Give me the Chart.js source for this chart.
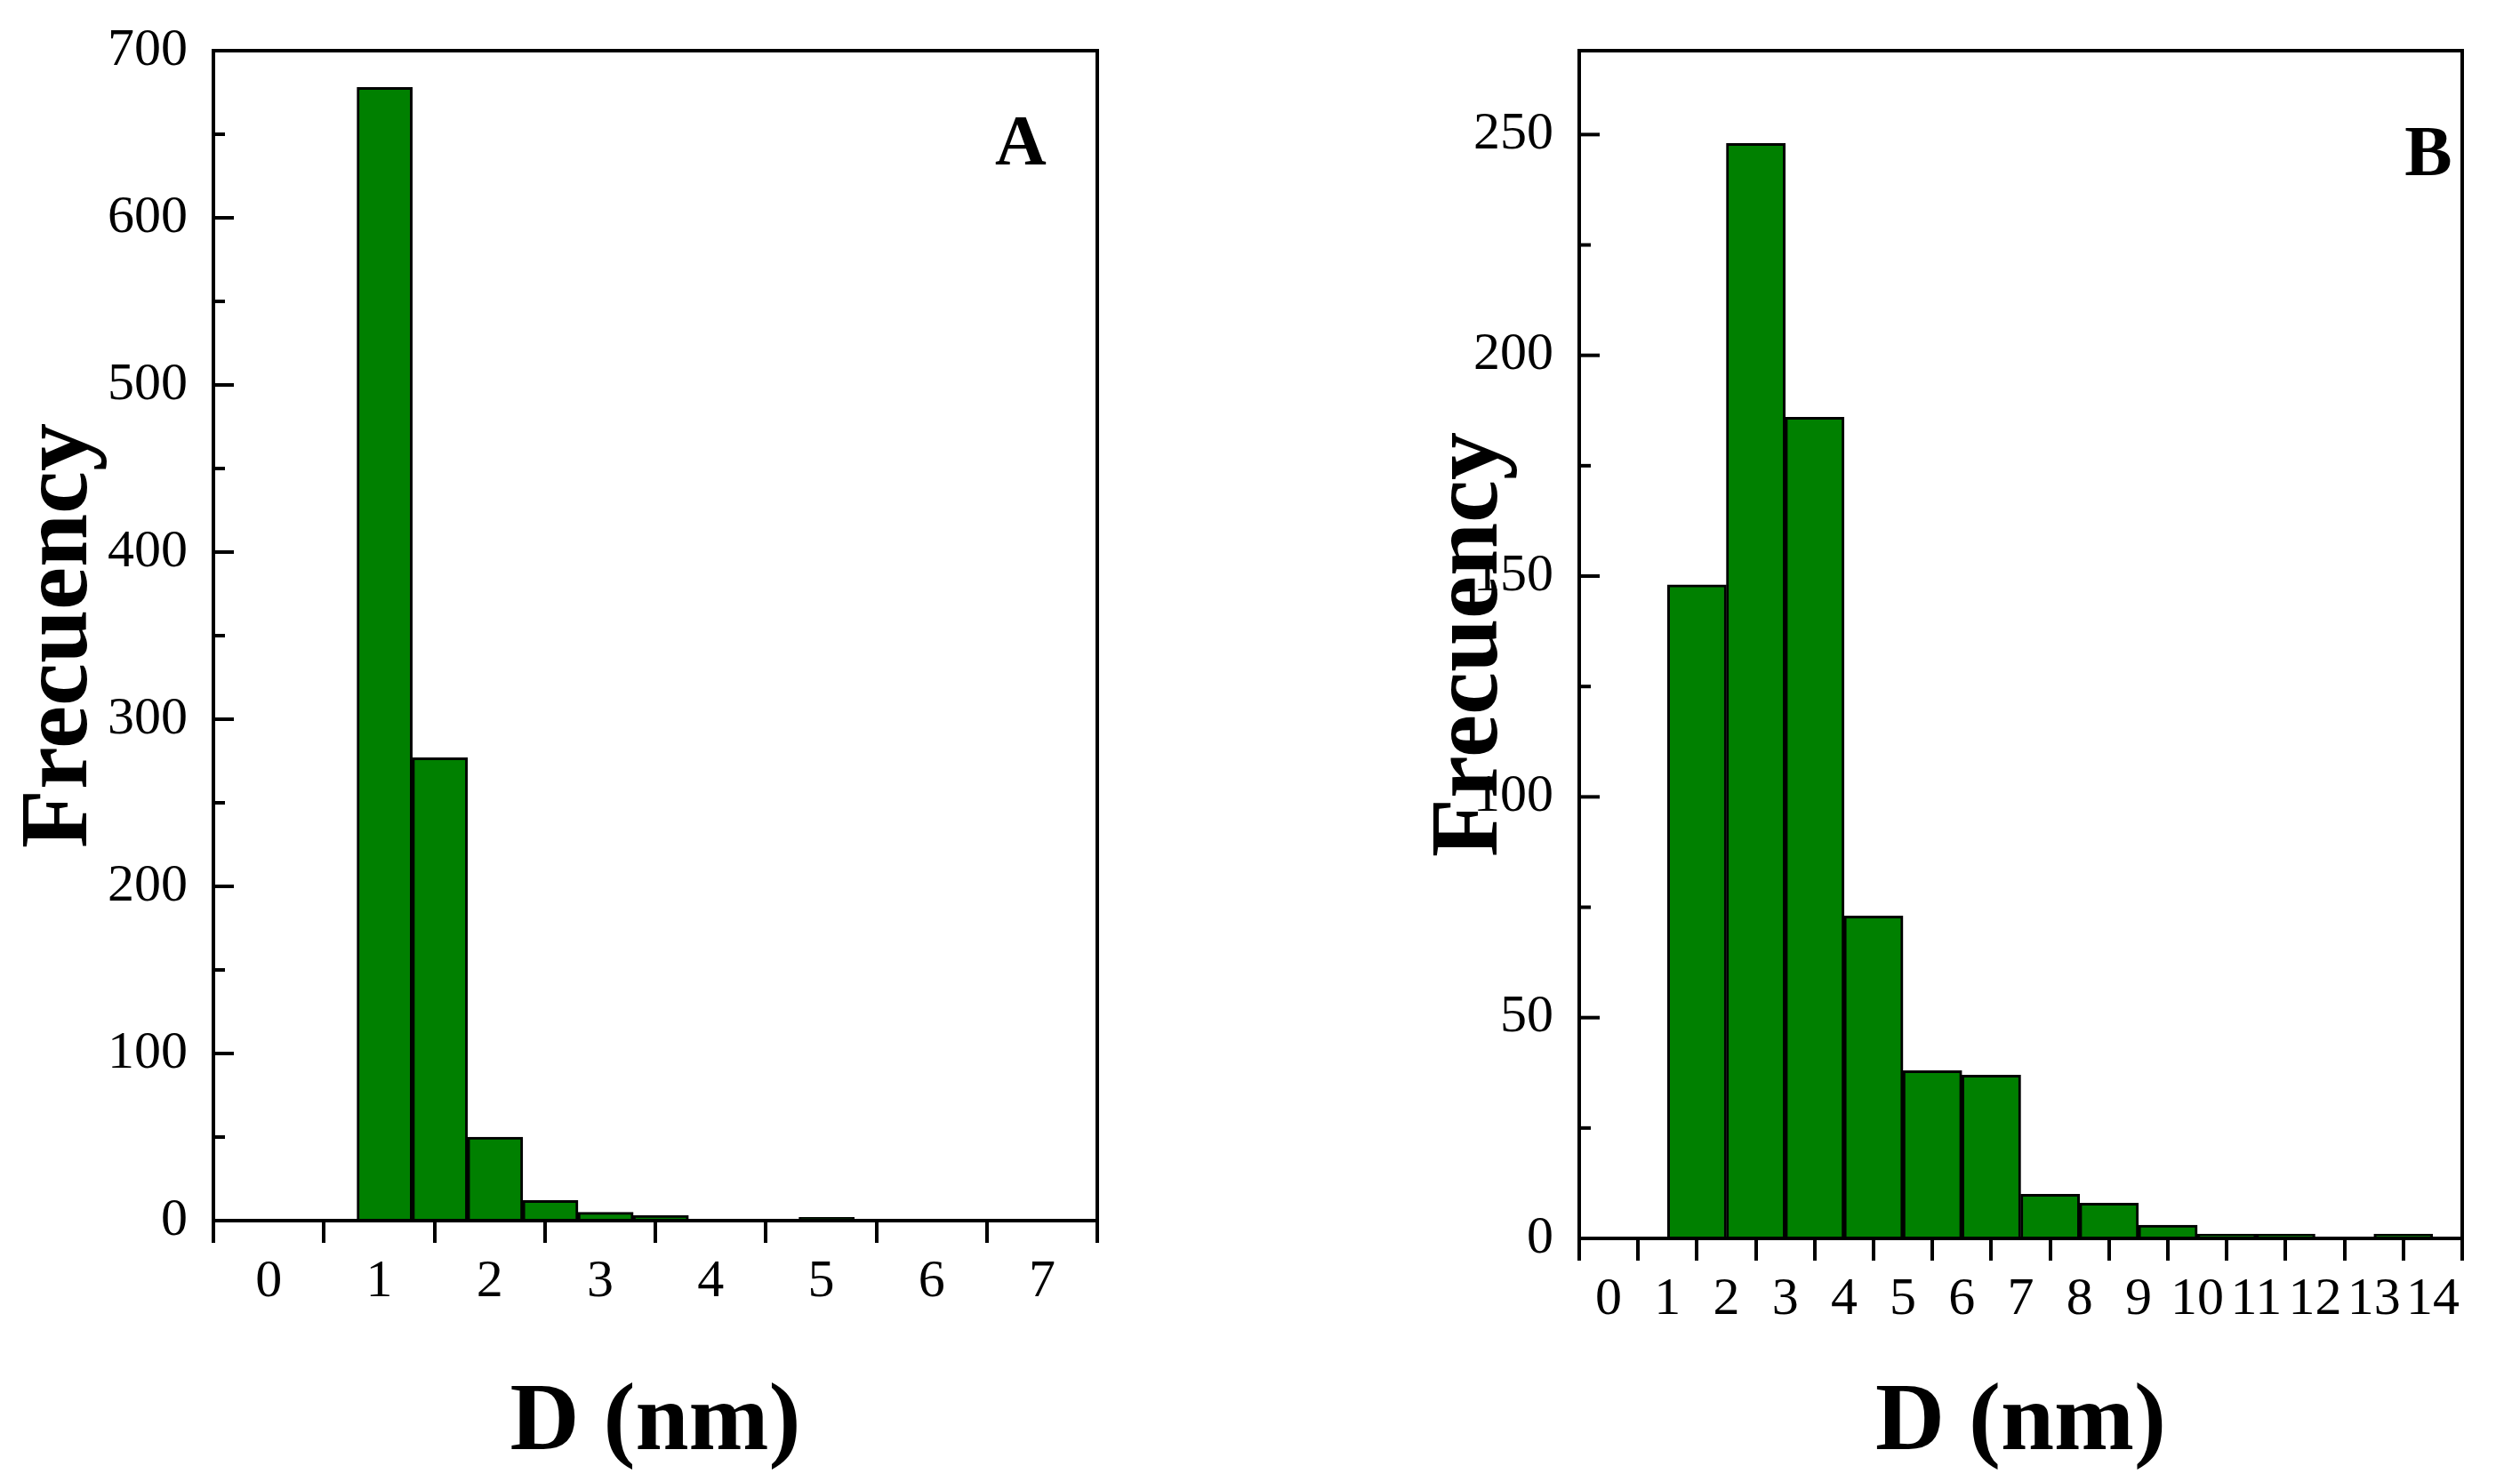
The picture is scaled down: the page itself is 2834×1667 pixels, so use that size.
<!DOCTYPE html>
<html><head><meta charset="utf-8">
<script src="https://cdn.jsdelivr.net/npm/chart.js@4"></script>
<style>body{margin:0;background:#fff;width:2834px;height:1667px;overflow:hidden;position:relative}
#wa{position:absolute;left:0;top:0;width:1300px;height:1667px}
#wb{position:absolute;left:1400px;top:0;width:1434px;height:1667px}</style>
</head><body>
<div id="wa"><canvas id="ca"></canvas></div>
<div id="wb"><canvas id="cb"></canvas></div>
<script>
const binCentersA = [1.05,1.55,2.05,2.55,3.05,3.55,4.05,4.55,5.05,5.55,6.05,6.55];
const countsA = [678,277,50,12,5,3,0,0,2,0,0,0];
const binCentersB = [1.5,2.5,3.5,4.5,5.5,6.5,7.5,8.5,9.5,10.5,11.5,12.5,13.5];
const countsB = [148,248,186,73,38,37,10,8,3,1,1,0,1];
const xTicksA = [0,1,2,3,4,5,6,7];
const yTicksA = [0,100,200,300,400,500,600,700];
const xTicksB = [0,1,2,3,4,5,6,7,8,9,10,11,12,13,14];
const yTicksB = [0,50,100,150,200,250];

const FONT = "'Liberation Serif', 'Times New Roman', serif";
const frame = {
  id:'frame',
  afterDraw(chart, args, o){
    const {ctx, chartArea:a, scales:{y}} = chart;
    ctx.save();
    ctx.strokeStyle='#000'; ctx.lineWidth=4; ctx.lineCap='square';
    ctx.strokeRect(a.left, a.top, a.right-a.left, a.bottom-a.top);
    ctx.lineCap='butt';
    for(let v=o.step/2; v<=y.max; v+=o.step/2){
      const p=y.getPixelForValue(v);
      const major = Math.abs(v/o.step - Math.round(v/o.step))<1e-6;
      ctx.beginPath(); ctx.moveTo(a.left,p); ctx.lineTo(a.left+(major?23:13),p); ctx.stroke();
    }
    ctx.fillStyle='#000'; ctx.font='bold 80px '+FONT; ctx.textAlign='center'; ctx.textBaseline='middle';
    ctx.fillText(o.label, o.lx, o.ly);
    ctx.restore();
  }
};
function make(id, centers, counts, xmax, ymax, step, xt, yt, yW, yPad, xH, padR, top, label, lx, ly, xTitlePad){
  new Chart(document.getElementById(id), {
    type:'bar',
    data:{datasets:[{data:centers.map((c,i)=>({x:c,y:counts[i]})), backgroundColor:'#008000', borderColor:'#000', borderWidth:3, barPercentage:1, categoryPercentage:1, grouped:false, borderSkipped:'bottom'}]},
    options:{
      responsive:true, maintainAspectRatio:false, animation:false,
      layout:{padding:{top:top,right:padR,left:0,bottom:0}},
      plugins:{legend:{display:false}, tooltip:{enabled:false}, frame:{label, lx, ly, step}},
      scales:{
        x:{type:'linear', min:0, max:xmax, afterBuildTicks:s=>{s.ticks=xt.map(v=>({value:v}))},
          grid:{display:true, drawOnChartArea:false, tickLength:25, tickWidth:4, tickColor:'#000', lineWidth:4, color:'#000'},
          border:{display:false},
          ticks:{color:'#000', font:{family:FONT,size:60}, padding:8, maxRotation:0, autoSkip:false},
          title:{display:true, text:'D (nm)', color:'#000', font:{family:FONT,size:108,weight:'bold'}, padding:{top:xTitlePad,bottom:0}},
          afterFit:s=>{s.height=xH}},
        y:{min:0, max:ymax, afterBuildTicks:s=>{s.ticks=yt.map(v=>({value:v}))},
          grid:{display:false}, border:{display:false},
          ticks:{color:'#000', font:{family:FONT,size:60}, padding:21, autoSkip:false},
          title:{display:true, text:'Frecuency', color:'#000', font:{family:FONT,size:108,weight:'bold'}, padding:{top:yPad,bottom:0}},
          afterFit:s=>{s.width=yW}}
      }
    },
    plugins:[frame]
  });
}
make('ca', binCentersA, countsA, 7, 700, 100, xTicksA, yTicksA, 240, 4, 294, 66, 52, 'A', 1148, 164, 20);
make('cb', binCentersB, countsB, 14, 269, 50, xTicksB, yTicksB, 376, 190, 274, 65, 51, 'B', 1331, 176, 30);
</script>
</body></html>
